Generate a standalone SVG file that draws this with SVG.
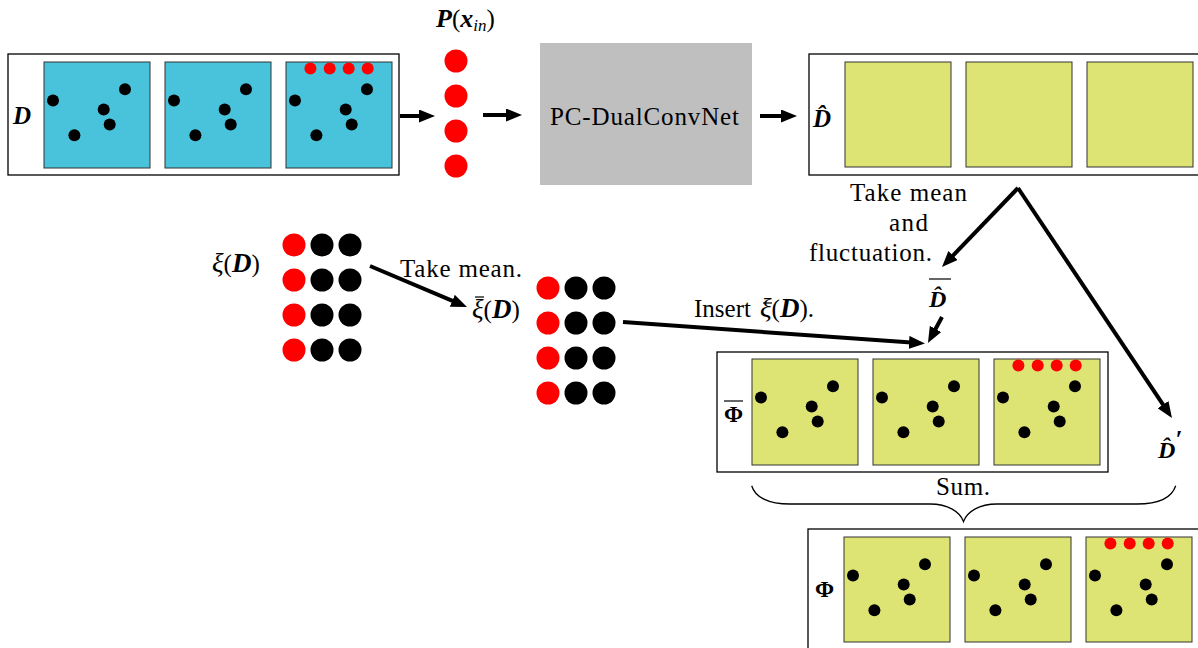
<svg xmlns="http://www.w3.org/2000/svg" width="1198" height="648" viewBox="0 0 1198 648">
<defs>
<style>
.frame{fill:#fff;stroke:#000;stroke-width:1.3}
.sqB{fill:#48c3db;stroke:#333;stroke-width:1}
.sqY{fill:#dee474;stroke:#333;stroke-width:1}
.t{font-family:"Liberation Serif","Times New Roman",serif;font-size:25px;fill:#000}
.bi{font-family:"Liberation Serif","Times New Roman",serif;font-weight:bold;font-style:italic;fill:#000}
.it{font-family:"Liberation Serif","Times New Roman",serif;font-style:italic;fill:#000}
.bd{font-family:"Liberation Serif","Times New Roman",serif;font-weight:bold;fill:#000}
.arr{stroke:#000;stroke-width:4;fill:none;marker-end:url(#ah)}
.ol{stroke:#000;stroke-width:1.2}
.red{fill:#ff0000}
.blk{fill:#000}
</style>
<marker id="ah" viewBox="0 0 16 13" refX="6" refY="6.5" markerWidth="16" markerHeight="13" markerUnits="userSpaceOnUse" orient="auto"><path d="M0,0 L16,6.5 L0,13 Z" fill="#000"/></marker>
<g id="pts">
<circle cx="9" cy="38.6" r="6" class="blk"/>
<circle cx="30.4" cy="73.3" r="6" class="blk"/>
<circle cx="59.7" cy="47.6" r="6" class="blk"/>
<circle cx="65.7" cy="62.6" r="6" class="blk"/>
<circle cx="81" cy="27.3" r="6" class="blk"/>
</g>
<g id="reds">
<circle cx="24.4" cy="6.6" r="6" class="red"/>
<circle cx="43.7" cy="6.6" r="6" class="red"/>
<circle cx="62.7" cy="6.6" r="6" class="red"/>
<circle cx="81.7" cy="6.6" r="6" class="red"/>
</g>
<g id="grid">
<circle cx="0" cy="0" r="11.5" class="red"/><circle cx="28" cy="0" r="11.5" class="blk"/><circle cx="56" cy="0" r="11.5" class="blk"/>
<circle cx="0" cy="35" r="11.5" class="red"/><circle cx="28" cy="35" r="11.5" class="blk"/><circle cx="56" cy="35" r="11.5" class="blk"/>
<circle cx="0" cy="70" r="11.5" class="red"/><circle cx="28" cy="70" r="11.5" class="blk"/><circle cx="56" cy="70" r="11.5" class="blk"/>
<circle cx="0" cy="105" r="11.5" class="red"/><circle cx="28" cy="105" r="11.5" class="blk"/><circle cx="56" cy="105" r="11.5" class="blk"/>
</g>
</defs>
<rect width="1198" height="648" fill="#fff"/>

<g id="node-D">
<rect class="frame" x="8" y="54" width="391" height="121"/>
<rect class="sqB" x="44" y="62" width="106" height="106"/>
<rect class="sqB" x="165" y="62" width="106" height="106"/>
<rect class="sqB" x="286" y="62" width="106" height="106"/>
<use href="#pts" transform="translate(44,62)"/>
<use href="#pts" transform="translate(165,62)"/>
<use href="#pts" transform="translate(286,62)"/>
<use href="#reds" transform="translate(286,62)"/>
<text class="bi" x="13" y="124" font-size="25">D</text>
</g>

<g id="node-P">
<circle cx="456" cy="61" r="11.5" class="red"/>
<circle cx="456" cy="96" r="11.5" class="red"/>
<circle cx="456" cy="131" r="11.5" class="red"/>
<circle cx="456" cy="166" r="11.5" class="red"/>
<text x="436" y="27" font-size="26"><tspan class="bi">P</tspan><tspan class="t" font-size="26">(</tspan><tspan class="bi">x</tspan><tspan class="it" font-size="17" dy="4">in</tspan><tspan class="t" font-size="26" dy="-4">)</tspan></text>
</g>

<g id="node-net">
<rect x="540" y="43" width="212" height="142" fill="#bfbfbf"/>
<text class="t" x="550" y="125" textLength="189" lengthAdjust="spacing">PC-DualConvNet</text>
</g>

<g id="node-Dhat">
<rect class="frame" x="809" y="54" width="400" height="121"/>
<rect class="sqY" x="845" y="62" width="106" height="105"/>
<rect class="sqY" x="966" y="62" width="106" height="105"/>
<rect class="sqY" x="1087" y="62" width="106" height="105"/>
<text class="bi" x="813" y="127" font-size="25">D̂</text>
</g>

<g id="node-mean-text">
<text class="t" x="850" y="201" textLength="117" lengthAdjust="spacing">Take mean</text>
<text class="t" x="889" y="231" textLength="39" lengthAdjust="spacing">and</text>
<text class="t" x="809" y="261" textLength="123" lengthAdjust="spacing">fluctuation.</text>
</g>

<g id="node-xi">
<use href="#grid" transform="translate(294,245)"/>
<text x="212" y="272" font-size="27"><tspan class="it">ξ</tspan><tspan class="t" font-size="27">(</tspan><tspan class="bi">D</tspan><tspan class="t" font-size="27">)</tspan></text>
</g>

<g id="node-xibar">
<use href="#grid" transform="translate(548,288)"/>
<text x="472" y="318" font-size="27"><tspan class="it">ξ</tspan><tspan class="t" font-size="27">(</tspan><tspan class="bi">D</tspan><tspan class="t" font-size="27">)</tspan></text>
<line class="ol" x1="475" y1="297" x2="484" y2="297"/>
</g>

<g id="node-take-mean-text">
<text class="t" x="400" y="277" textLength="122" lengthAdjust="spacing">Take mean.</text>
</g>

<g id="node-insert-text">
<text class="t" x="694" y="317">Insert</text>
<text x="760" y="317" font-size="27"><tspan class="it">ξ</tspan><tspan class="t" font-size="27">(</tspan><tspan class="bi">D</tspan><tspan class="t" font-size="27">).</tspan></text>
<line class="ol" x1="763" y1="303" x2="772" y2="303"/>
</g>

<g id="node-Dhatbar">
<text class="bi" x="929" y="307" font-size="24">D̂</text>
<line class="ol" x1="929" y1="279" x2="951" y2="279"/>
</g>

<g id="node-Dhatprime">
<text class="bi" x="1158" y="458" font-size="24">D̂<tspan class="t" font-size="20" dy="-10">′</tspan></text>
</g>

<g id="node-Phibar">
<rect class="frame" x="717" y="352" width="391" height="120"/>
<rect class="sqY" x="752" y="359" width="106" height="106"/>
<rect class="sqY" x="873" y="359" width="106" height="106"/>
<rect class="sqY" x="994" y="359" width="106" height="106"/>
<use href="#pts" transform="translate(752,359)"/>
<use href="#pts" transform="translate(873,359)"/>
<use href="#pts" transform="translate(994,359)"/>
<use href="#reds" transform="translate(994,359)"/>
<text class="bd" x="724" y="422" font-size="23">Φ</text>
<line class="ol" x1="724" y1="401" x2="743" y2="401"/>
</g>

<g id="node-sum">
<path d="M751.7,485.7 C755,497 768,504 790,504 L930,504 C948,504 960,512 963.5,521.5 C967,512 979,504 997,504 L1137,504 C1159,504 1172,497 1175.7,485.7" fill="none" stroke="#000" stroke-width="1.3"/>
<text class="t" x="936" y="495" textLength="54" lengthAdjust="spacing">Sum.</text>
</g>

<g id="node-Phi">
<rect class="frame" x="808" y="529" width="400" height="130"/>
<rect class="sqY" x="844" y="537" width="106" height="105"/>
<rect class="sqY" x="965" y="537" width="106" height="105"/>
<rect class="sqY" x="1086" y="537" width="106" height="105"/>
<use href="#pts" transform="translate(844,537)"/>
<use href="#pts" transform="translate(965,537)"/>
<use href="#pts" transform="translate(1086,537)"/>
<use href="#reds" transform="translate(1086,537)"/>
<text class="bd" x="815" y="597" font-size="23">Φ</text>
</g>

<g id="connectors">
<line class="arr" x1="400" y1="116" x2="425" y2="116"/>
<line class="arr" x1="483" y1="115" x2="512" y2="115"/>
<line class="arr" x1="760" y1="116" x2="787" y2="116"/>
<line class="arr" x1="370" y1="266" x2="457.8" y2="303.1"/>
<line class="arr" x1="623" y1="322" x2="915" y2="342.8"/>
<line class="arr" x1="1018" y1="188" x2="948.9" y2="259.8"/>
<line class="arr" x1="1018" y1="188" x2="1166.4" y2="409.7"/>
<line class="arr" x1="942" y1="317" x2="932.7" y2="334.2"/>
</g>
</svg>
